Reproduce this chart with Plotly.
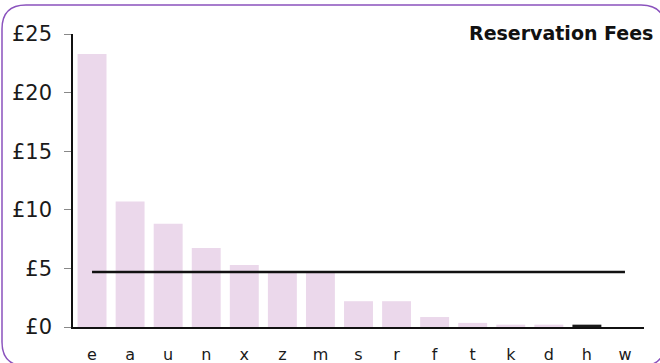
import plotly.graph_objects as go

# Reservation fee per category (GBP)
categories = ["e", "a", "u", "n", "x", "z", "m", "s", "r", "f", "t", "k", "d", "h", "w"]
fees = [23.3, 10.7, 8.8, 6.75, 5.3, 4.6, 4.6, 2.2, 2.2, 0.85, 0.35, 0.2, 0.2, 0.2, 0.0]
highlight = "h"
y_ticks = [0, 5, 10, 15, 20, 25]
y_tick_labels = ["\u00a3" + str(v) for v in y_ticks]

mean_fee = sum(fees) / len(fees)

W, H = 660, 363
L, R, T, B = 73, 16, 34, 36
pw, ph = W - L - R, H - T - B


def px(x):
    return (x - L) / pw


def py(y):
    return (H - B - y) / ph


def rounded_rect(x0, y0, x1, y1, r):
    pts = [
        ("M", [(x0 + r, y0)]),
        ("L", [(x1 - r, y0)]),
        ("Q", [(x1, y0), (x1, y0 + r)]),
        ("L", [(x1, y1 - r)]),
        ("Q", [(x1, y1), (x1 - r, y1)]),
        ("L", [(x0 + r, y1)]),
        ("Q", [(x0, y1), (x0, y1 - r)]),
        ("L", [(x0, y0 + r)]),
        ("Q", [(x0, y0), (x0 + r, y0)]),
    ]
    out = []
    for cmd, coords in pts:
        out.append(cmd + " " + " ".join(f"{px(a):.5f},{py(b):.5f}" for a, b in coords))
    return " ".join(out) + " Z"


bar_colors = ["#1a1a1a" if c == highlight else "#ebd8eb" for c in categories]

fig = go.Figure()
fig.add_trace(go.Bar(
    x=categories, y=fees,
    marker=dict(color=bar_colors, line=dict(width=0)),
    hoverinfo="x+y",
))
fig.add_trace(go.Scatter(
    x=[categories[0], categories[-1]], y=[mean_fee, mean_fee],
    mode="lines", line=dict(color="#111111", width=2.5),
    hoverinfo="skip",
))

fig.update_layout(
    width=W, height=H,
    margin=dict(l=L, r=R, t=T, b=B, autoexpand=False),
    paper_bgcolor="white", plot_bgcolor="white",
    showlegend=False,
    bargap=0.24,
    font=dict(family="DejaVu Sans", color="#1a1a1a"),
    xaxis=dict(
        type="category", range=[-0.5, len(categories) - 0.5],
        showline=True, linecolor="#111111", linewidth=2,
        ticks="", showgrid=False, zeroline=False, automargin=False,
        tickfont=dict(size=16), ticklabelstandoff=12,
    ),
    yaxis=dict(
        range=[0, 25], tickvals=y_ticks, ticktext=y_tick_labels,
        showline=True, linecolor="#111111", linewidth=1.5,
        ticks="outside", ticklen=7, tickcolor="#888888", tickwidth=1,
        showgrid=False, zeroline=False, automargin=False,
        tickfont=dict(size=21), ticklabelstandoff=8,
    ),
    annotations=[dict(
        text="<b>Reservation Fees</b>", xref="paper", yref="paper",
        x=px(655), y=py(33), xanchor="right", yanchor="middle",
        showarrow=False, font=dict(size=19, color="#111111"),
    )],
    shapes=[dict(
        type="path", xref="paper", yref="paper",
        path=rounded_rect(2, 5, 665, 366, 24),
        line=dict(color="#8a52bd", width=1.5),
    )],
)

fig.write_html("out.html")
